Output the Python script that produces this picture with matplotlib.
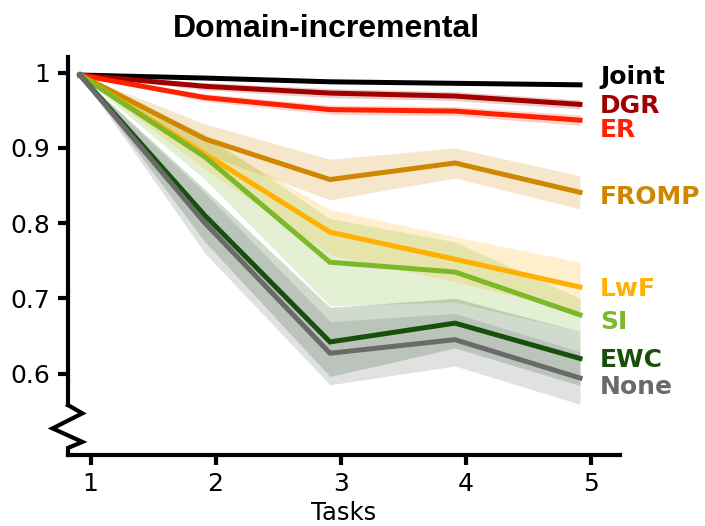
import matplotlib.pyplot as plt
import numpy as np

tasks = np.array([1, 2, 3, 4, 5])

joint = [0.997, 0.993, 0.988, 0.986, 0.984]
joint_err = [0.0, 0.002, 0.002, 0.002, 0.002]
dgr = [0.997, 0.982, 0.973, 0.969, 0.958]
dgr_err = [0.0, 0.005, 0.006, 0.006, 0.006]
er = [0.997, 0.967, 0.951, 0.949, 0.937]
er_err = [0.0, 0.005, 0.006, 0.006, 0.007]
fromp = [0.997, 0.912, 0.858, 0.880, 0.841]
fromp_err = [0.0, 0.02, 0.027, 0.02, 0.022]
lwf = [0.997, 0.892, 0.788, 0.752, 0.715]
lwf_err = [0.0, 0.02, 0.03, 0.03, 0.033]
si = [0.997, 0.888, 0.748, 0.735, 0.678]
si_err = [0.0, 0.03, 0.058, 0.04, 0.022]
ewc = [0.997, 0.81, 0.642, 0.667, 0.62]
ewc_err = [0.0, 0.035, 0.046, 0.033, 0.036]
none = [0.997, 0.80, 0.627, 0.645, 0.594]
none_err = [0.0, 0.04, 0.042, 0.035, 0.035]

names = ["Joint", "DGR", "ER", "FROMP", "LwF", "SI", "EWC", "None"]
means = [joint, dgr, er, fromp, lwf, si, ewc, none]
errs = [joint_err, dgr_err, er_err, fromp_err, lwf_err, si_err, ewc_err, none_err]
colors = ["#000000", "#a00000", "#ff2000", "#cf8600", "#ffb000", "#7cb828", "#174f0b", "#6a6a6a"]
label_y = [0.985, 0.946, 0.914, 0.826, 0.703, 0.659, 0.608, 0.573]

fig = plt.figure(figsize=(7.05, 5.26), dpi=100)
ax = fig.add_axes([68 / 705, 1 - 455 / 526, 552 / 705, 398 / 526])

# shaded bands first, lines on top
for m, e, c in zip(means, errs, colors):
    m = np.array(m)
    e = np.array(e)
    ax.fill_between(tasks, m - e, m + e, color=c, alpha=0.2, linewidth=0)
for m, c in zip(means, colors):
    ax.plot(tasks, m, color=c, linewidth=3.6, solid_joinstyle="miter")

for name, y, c in zip(names, label_y, colors):
    ax.text(5.16, y, name, color=c, fontsize=18, fontweight="bold",
            va="baseline", ha="left", clip_on=False)

ax.set_xlim(0.904, 5.32)
ax.set_ylim(0.4916, 1.021)

ax.spines["top"].set_visible(False)
ax.spines["right"].set_visible(False)
for s in ["left", "bottom"]:
    ax.spines[s].set_linewidth(3)
ax.spines["left"].set_bounds(0.558, 1.021)

# axis break on the y axis
brk_x = [0.0, 0.026, -0.028, 0.026, 0.0, 0.0]
brk_y = [0.558, 0.547, 0.527, 0.509, 0.501, 0.4916]
ax.plot(brk_x, brk_y, color="black", linewidth=3, clip_on=False,
        transform=ax.get_yaxis_transform(), solid_joinstyle="miter")

ax.set_xticks(tasks + 0.085)
ax.set_xticklabels([str(t) for t in tasks])
ax.set_yticks([0.6, 0.7, 0.8, 0.9, 1.0])
ax.set_yticklabels(["0.6", "0.7", "0.8", "0.9", "1"])
ax.tick_params(axis="both", labelsize=18, width=3, length=7)
ax.tick_params(axis="y", pad=6)
ax.tick_params(axis="x", pad=5)
ax.set_xlabel("Tasks", fontsize=17.5, labelpad=3.5)

fig.text(326 / 705, 1 - 37 / 526, "Domain-incremental", fontsize=23,
         fontweight="bold", family="Liberation Sans", ha="center", va="baseline")

fig.savefig("out.png", dpi=100)
